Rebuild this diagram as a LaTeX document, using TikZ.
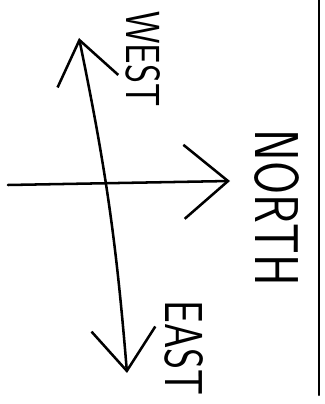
\documentclass[tikz,border=0pt]{standalone}
\usetikzlibrary{arrows.meta}
\begin{document}
\begin{tikzpicture}[line width=1.8pt,line cap=round,line join=round,
  ink/.style={font=\sffamily\fontsize{40}{40}\selectfont,inner sep=0pt},
  twoway/.style={{Straight Barb[length=10.5mm,width=15.5mm]}-{Straight Barb[length=10.5mm,width=16mm]}}]
\useasboundingbox (0,0) rectangle (8.1,10.1);
% page edge
\coordinate (edgetop) at (7.975,10.1);
\coordinate (edgebot) at (7.975,0.225);
\draw[line width=1.5pt] (edgetop) -- (edgebot);
% north arrow
\coordinate (origin) at (0.2,5.475);
\coordinate (north) at (5.75,5.575);
\draw[-{Straight Barb[length=11mm,width=18.5mm]}] (origin) -- (north);
% west -- east
\coordinate (west) at (1.975,9.15);
\coordinate (east) at (3.175,0.775);
\draw[twoway] (west) to[bend left=3.5] (east);
% labels
\node[ink,rotate=-90,xscale=0.65,yscale=0.85] (westlabel) at (3.575,8.625) {WEST};
\node[ink,rotate=-90,xscale=0.85,yscale=1.1] (northlabel) at (6.925,4.9) {NORTH};
\node[ink,rotate=-90,xscale=0.72,yscale=0.95] (eastlabel) at (4.6,1.4) {EAST};
\end{tikzpicture}
\end{document}
